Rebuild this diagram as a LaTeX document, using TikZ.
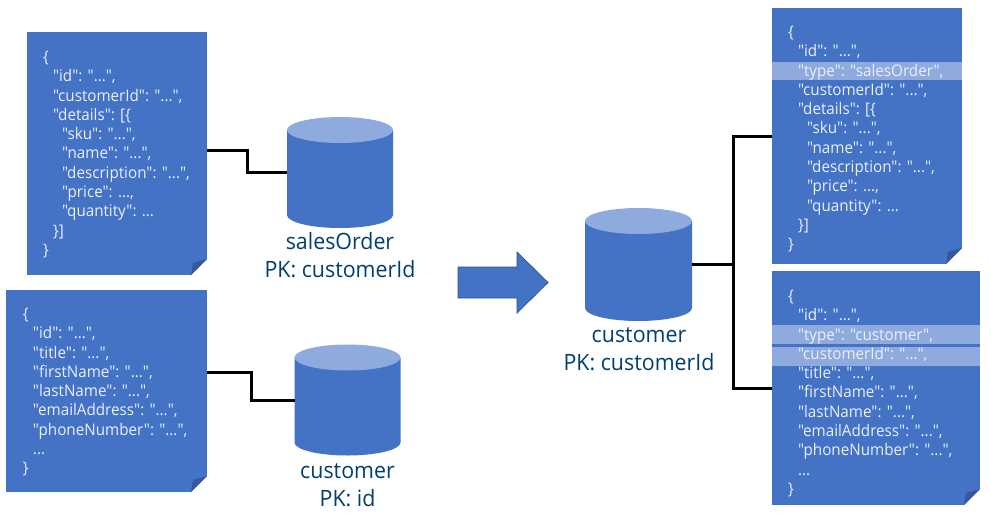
\documentclass[tikz,border=0pt]{standalone}
\usepackage{fontspec}
\setmainfont{Open Sans}[FakeStretch=0.95]
\newfontfamily\docfont{Open Sans}[FakeStretch=0.95]
\definecolor{docblue}{HTML}{4472C4}
\definecolor{lightblue}{HTML}{8FAADC}
\definecolor{foldblue}{HTML}{36599C}
\definecolor{edgeblue}{HTML}{2F528F}
\definecolor{labelblue}{HTML}{003F6E}
\definecolor{doctext}{HTML}{EAF0FA}
\tikzset{
  docbox/.style={rectangle,fill=docblue,inner sep=0pt,outer sep=0pt},
  doctxt/.style={anchor=north west,inner sep=0pt,outer sep=0pt,align=left,text=doctext,
    font=\docfont\fontsize{16}{19.3}\selectfont},
  dbbox/.style={rectangle,inner sep=0pt,outer sep=0pt},
  dblabel/.style={align=center,text=labelblue,inner sep=0pt,
    font=\fontsize{22.5}{28}\selectfont},
  band/.style={fill=lightblue,draw=none},
  conn/.style={draw=black,line width=3pt},
}
\newcommand{\docfold}[1]{%
  \fill[white] ([yshift=16pt]#1.south east) -- ([xshift=-16pt]#1.south east) -- ([xshift=1pt,yshift=-1pt]#1.south east) -- cycle;
  \fill[foldblue] ([yshift=16pt]#1.south east) -- ([xshift=-14pt,yshift=12pt]#1.south east) -- ([xshift=-16pt]#1.south east) -- cycle;
}
% body and lid of a database; #1 is the node that gives its extent
\newcommand{\dbdraw}[1]{%
  \fill[docblue] ([yshift=-13pt]#1.north west) -- ([yshift=13pt]#1.south west)
    arc[start angle=180,end angle=360,x radius=0.5*\dbw,y radius=13pt]
    -- ([yshift=-13pt]#1.north east) -- cycle;
  \fill[lightblue] ([yshift=-13pt]#1.north) ellipse[x radius=0.5*\dbw,y radius=13pt];
}
\newcommand{\ind}{\hspace*{10pt}}
\newcommand{\indd}{\hspace*{19pt}}
\begin{document}
\begin{tikzpicture}[x=1pt,y=-1pt]
\fill[white] (0,0) rectangle (991,512);
\useasboundingbox (0,0) rectangle (991,512);
% documents
\node[docbox,minimum width=180pt,minimum height=243pt] (docA) at (117,153.5) {};
\node[docbox,minimum width=201pt,minimum height=202pt] (docB) at (106.5,391) {};
\node[docbox,minimum width=190pt,minimum height=256pt] (docC) at (867,136) {};
\node[docbox,minimum width=208pt,minimum height=234pt] (docD) at (876,388) {};
\docfold{docA}\docfold{docB}\docfold{docC}\docfold{docD}
% highlights
\fill[band] (772,62) rectangle (962,80);
\fill[band] (772,325) rectangle (980,344);
\fill[band] (772,347) rectangle (980,366);
% texts
\node[doctxt] (txtA) at (43,51) {\{\\\ind"id": "...",\\\ind"customerId": "...",\\\ind"details": [\{\\\indd"sku": "...",\\\indd"name": "...",\\\indd"description": "...",\\\indd"price": ...,\\\indd"quantity": ...\\\ind\}]\\\}};
\node[doctxt] (txtB) at (23,308) {\{\\\ind"id": "...",\\\ind"title": "...",\\\ind"firstName": "...",\\\ind"lastName": "...",\\\ind"emailAddress": "...",\\\ind"phoneNumber": "...",\\\ind...\\\}};
\node[doctxt] (txtC) at (788,26) {\{\\\ind"id": "...",\\\ind"type": "salesOrder",\\\ind"customerId": "...",\\\ind"details": [\{\\\indd"sku": "...",\\\indd"name": "...",\\\indd"description": "...",\\\indd"price": ...,\\\indd"quantity": ...\\\ind\}]\\\}};
\node[doctxt] (txtD) at (788,290) {\{\\\ind"id": "...",\\\ind"type": "customer",\\\ind"customerId": "...",\\\ind"title": "...",\\\ind"firstName": "...",\\\ind"lastName": "...",\\\ind"emailAddress": "...",\\\ind"phoneNumber": "...",\\\ind...\\\}};
% databases
\def\dbw{106pt}
\node[dbbox,minimum width=106pt,minimum height=111pt] (dbSales) at (340,172.5) {};
\node[dbbox,minimum width=106pt,minimum height=111pt] (dbCust) at (347.5,400) {};
\dbdraw{dbSales}\dbdraw{dbCust}
\def\dbw{107pt}
\node[dbbox,minimum width=107pt,minimum height=113pt] (dbNew) at (638.5,264.5) {};
\dbdraw{dbNew}
% labels
\node[dblabel] (lblSales) at (340,255) {salesOrder\\PK: customerId};
\node[dblabel] (lblCust) at (347.5,485) {customer\\PK: id};
\node[dblabel] (lblNew) at (639,349) {customer\\PK: customerId};
% arrow
\draw[fill=docblue,draw=edgeblue,line width=0.75pt]
  (458,267) -- (517,267) -- (517,252) -- (548,282.5) -- (517,313) -- (517,298) -- (458,298) -- cycle;
% connectors
\draw[conn] ([yshift=3.5pt]docA.east) -- ++(40,0) |- (dbSales.west);
\draw[conn] ([yshift=19pt]docB.east) -- ++(44,0) |- (dbCust.west);
\draw[conn] (dbNew.east) -- ++(41,0) coordinate (junction);
\draw[conn] (junction) |- (docC.west);
\draw[conn] (junction) |- (docD.west);
\end{tikzpicture}
\end{document}
